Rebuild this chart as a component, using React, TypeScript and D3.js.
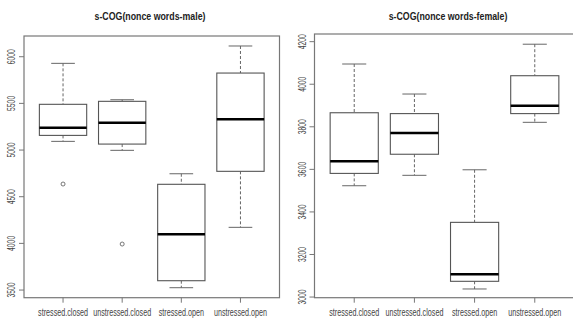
import React from "react";
import * as d3 from "d3";

const categories = ["stressed.closed", "unstressed.closed", "stressed.open", "unstressed.open"];

// [lowWhisker, q1, median, q3, highWhisker]
const maleStats = [
  [5093, 5157, 5239, 5490, 5929],
  [4997, 5064, 5293, 5522, 5539],
  [3525, 3600, 4097, 4633, 4746],
  [4172, 4772, 5329, 5825, 6115],
];
const maleOutliers = [[4636], [3993], [], []];
const maleTicks = [3500, 4000, 4500, 5000, 5500, 6000];

const femaleStats = [
  [3523, 3581, 3638, 3866, 4095],
  [3572, 3671, 3771, 3862, 3954],
  [3038, 3074, 3107, 3351, 3598],
  [3821, 3862, 3899, 4040, 4188],
];
const femaleOutliers: number[][] = [[], [], [], []];
const femaleTicks = [3000, 3200, 3400, 3600, 3800, 4000, 4200];

const titles = ["s-COG(nonce words-male)", "s-COG(nonce words-female)"];

const FONT = "'Liberation Sans', Arial, sans-serif";

type PanelProps = {
  title: string;
  stats: number[][];
  outliers: number[][];
  ticks: number[];
  yDomain: [number, number];
  left: number;
  right: number;
  top: number;
  bottom: number;
  titleX: number;
};

function Panel({ title, stats, outliers, ticks, yDomain, left, right, top, bottom, titleX }: PanelProps) {
  const y = d3.scaleLinear().domain(yDomain).range([bottom, top]);
  const x = d3.scaleLinear().domain([0.34, 4.66]).range([left, right]);
  const unit = x(2) - x(1);
  const bw = unit * 0.8;
  const cap = bw / 2;
  const boxColor = "#555";
  return (
    <g>
      <text
        transform={`translate(${titleX},20) scale(0.8,1)`}
        textAnchor="middle"
        fontFamily={FONT}
        fontWeight="bold"
        fontSize={11}
        fill="#222"
      >
        {title}
      </text>
      <rect x={left} y={top} width={right - left} height={bottom - top} fill="none" stroke="#777" strokeWidth={1.2} />
      {ticks.map((t) => (
        <g key={t}>
          <line x1={left - 5} x2={left} y1={y(t)} y2={y(t)} stroke="#777" />
          <text
            transform={`translate(${left - 9},${y(t)}) rotate(-90) scale(0.68,1)`}
            textAnchor="middle"
            fontFamily={FONT}
            fontSize={10}
            fill="#444"
          >
            {t}
          </text>
        </g>
      ))}
      {categories.map((c, i) => {
        const cx = x(i + 1);
        const [lo, q1, med, q3, hi] = stats[i];
        return (
          <g key={c}>
            <line x1={cx} x2={cx} y1={bottom} y2={bottom + 5} stroke="#777" />
            <text
              transform={`translate(${cx},316) scale(0.72,1)`}
              textAnchor="middle"
              fontFamily={FONT}
              fontSize={10}
              fill="#444"
            >
              {c}
            </text>
            <line x1={cx} x2={cx} y1={y(hi)} y2={y(q3)} stroke="#666" strokeDasharray="3,2" />
            <line x1={cx} x2={cx} y1={y(q1)} y2={y(lo)} stroke="#666" strokeDasharray="3,2" />
            <line x1={cx - cap / 2} x2={cx + cap / 2} y1={y(hi)} y2={y(hi)} stroke="#666" />
            <line x1={cx - cap / 2} x2={cx + cap / 2} y1={y(lo)} y2={y(lo)} stroke="#666" />
            <rect x={cx - bw / 2} y={y(q3)} width={bw} height={y(q1) - y(q3)} fill="white" stroke={boxColor} strokeWidth={1.1} />
            <line x1={cx - bw / 2} x2={cx + bw / 2} y1={y(med)} y2={y(med)} stroke="#000" strokeWidth={2.5} />
            {outliers[i].map((o, j) => (
              <circle key={j} cx={cx} cy={y(o)} r={2} fill="none" stroke="#555" strokeWidth={0.8} />
            ))}
          </g>
        );
      })}
    </g>
  );
}

export default function App() {
  return (
    <svg width={573} height={320} style={{ position: "absolute", left: 0, top: 0, background: "white" }}>
      <rect width={573} height={320} fill="white" />
      <Panel
        title={titles[0]}
        stats={maleStats}
        outliers={maleOutliers}
        ticks={maleTicks}
        yDomain={[3418, 6222]}
        left={24}
        right={279.5}
        top={36}
        bottom={297.7}
        titleX={150}
      />
      <Panel
        title={titles[1]}
        stats={femaleStats}
        outliers={femaleOutliers}
        ticks={femaleTicks}
        yDomain={[2997, 4236]}
        left={314.5}
        right={574.5}
        top={34}
        bottom={297.7}
        titleX={448}
      />
    </svg>
  );
}
